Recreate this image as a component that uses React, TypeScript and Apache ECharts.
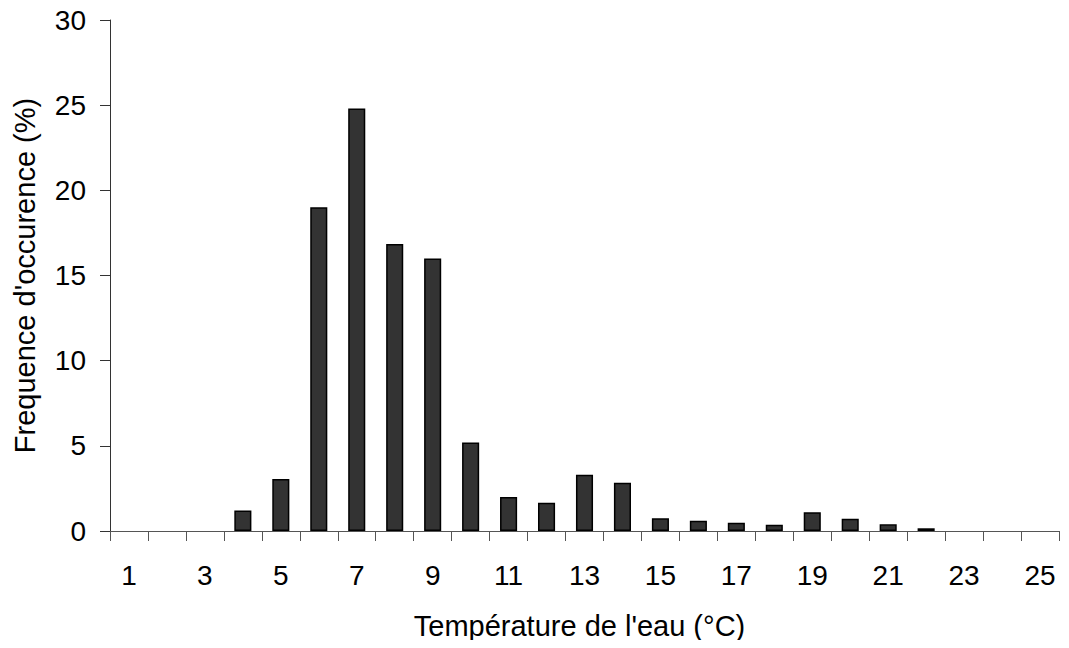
import React, { useEffect, useRef } from "react";
import * as echarts from "echarts";

const categories = ["1","2","3","4","5","6","7","8","9","10","11","12","13","14","15","16","17","18","19","20","21","22","23","24","25"];
const frequencies = [0, 0, 0, 1.2, 3.05, 19.0, 24.8, 16.85, 16.0, 5.2, 2.0, 1.66, 3.3, 2.84, 0.75, 0.6, 0.49, 0.37, 1.1, 0.72, 0.39, 0.16, 0, 0, 0];
const xTitle = "Température de l'eau (°C)";
const yTitle = "Frequence d'occurence (%)";

export default function App() {
  const ref = useRef<HTMLDivElement>(null);
  useEffect(() => {
    if (!ref.current) return;
    const chart = echarts.init(ref.current, null, { renderer: "svg" });
    const font = "'Liberation Sans', Arial, sans-serif";
    chart.setOption({
      animation: false,
      backgroundColor: "#fff",
      grid: { left: 110, top: 20, right: 10, bottom: 117, outerBoundsMode: "none", containLabel: false },
      xAxis: {
        type: "category",
        data: categories,
        boundaryGap: true,
        name: xTitle,
        nameLocation: "middle",
        nameGap: 80,
        nameTextStyle: { fontFamily: font, fontSize: 29, color: "#000", padding: [0, 10, 0, 0] },
        axisLine: { lineStyle: { color: "#555", width: 1 } },
        axisTick: { show: true, alignWithLabel: false, interval: 0, length: 10, lineStyle: { color: "#555" } },
        axisLabel: { interval: 1, margin: 30, fontFamily: font, fontSize: 28, color: "#000" },
        splitLine: { show: false },
      },
      yAxis: {
        type: "value",
        min: 0,
        max: 30,
        interval: 5,
        name: yTitle,
        nameLocation: "middle",
        nameGap: 71,
        nameRotate: 90,
        nameTextStyle: { fontFamily: font, fontSize: 29, color: "#000" },
        axisLine: { show: true, lineStyle: { color: "#333", width: 1 } },
        axisTick: { show: true, length: 10, inside: false, lineStyle: { color: "#333" } },
        axisLabel: { margin: 24, fontFamily: font, fontSize: 28, color: "#000" },
        splitLine: { show: false },
      },
      series: [
        {
          type: "bar",
          data: frequencies.map((v) => (v === 0 ? "-" : v)),
          barWidth: "45%",
          itemStyle: { color: "#333333", borderColor: "#000", borderWidth: 1.5 },
        },
      ],
    });
    return () => chart.dispose();
  }, []);
  return <div ref={ref} style={{ width: 1069, height: 648, margin: -8 }} />;
}
